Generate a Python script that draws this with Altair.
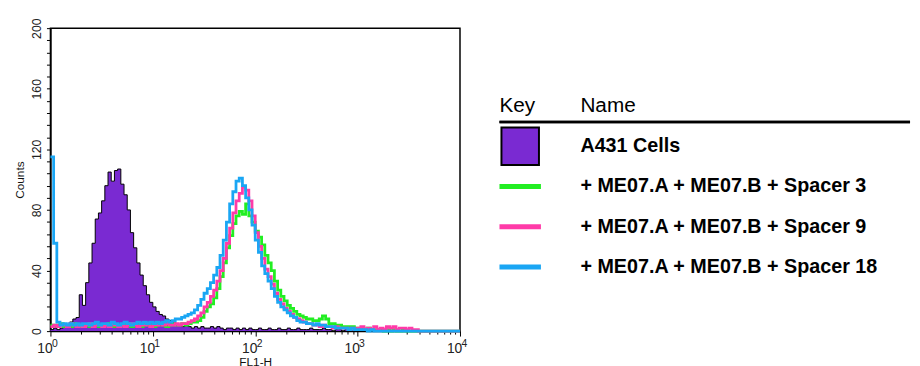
import altair as alt
import pandas as pd

# FL1-H histograms, 32 channels per decade from 10^0 to 10^4 (128 channels)
channels_per_decade = 32

a431 = [1, 2, 1, 2, 3, 4, 6, 8,
        9, 24, 17, 32, 45, 58, 74, 78,
        86, 96, 105, 99, 106, 107, 97, 90,
        80, 65, 55, 45, 37, 30, 24, 19,
        16, 13, 11, 10, 8, 7, 6, 5,
        4, 3, 4, 3, 2, 3, 2, 3,
        2, 2, 3, 2, 3, 2, 1, 2,
        2, 1, 2, 1, 2, 1, 2, 1,
        1, 2, 1, 1, 2, 1, 1, 2,
        1, 1, 2, 1, 1, 2, 1, 1,
        1, 2, 1, 1, 1, 2, 1, 1,
        0, 1, 1, 0, 1, 1, 0, 1,
        0, 0, 1, 0, 0, 0, 0, 0,
        0, 0, 0, 0, 0, 0, 0, 0,
        0, 0, 0, 0, 0, 0, 0, 0,
        0, 0, 0, 0, 0, 0, 0, 0]

spacer3 = [4, 3, 4, 5, 3, 4, 3, 5,
           4, 3, 4, 4, 3, 5, 4, 3,
           4, 4, 5, 3, 4, 3, 4, 5,
           4, 3, 4, 4, 3, 5, 4, 4,
           3, 4, 5, 4, 3, 4, 5, 4,
           4, 5, 4, 5, 6, 6, 7, 9,
           13, 16, 18, 22, 28, 36, 45, 55,
           63, 71, 76, 79, 77, 84, 76, 72,
           66, 62, 57, 50, 45, 40, 33, 27,
           23, 20, 17, 15, 13, 11, 10, 9,
           8, 8, 7, 7, 8, 10, 8, 5,
           5, 4, 4, 3, 3, 3, 3, 2,
           2, 2, 1, 2, 1, 1, 1, 1,
           0, 1, 0, 1, 0, 0, 1, 0,
           0, 0, 0, 0, 0, 0, 0, 0,
           0, 0, 0, 0, 0, 0, 0, 0]

spacer9 = [3, 4, 3, 4, 4, 3, 5, 4,
           3, 4, 3, 4, 5, 3, 4, 4,
           3, 4, 3, 5, 4, 3, 4, 3,
           4, 5, 4, 3, 4, 4, 5, 3,
           4, 4, 5, 4, 5, 4, 4, 5,
           4, 5, 5, 6, 7, 8, 10, 12,
           16, 19, 23, 27, 33, 40, 48, 58,
           68, 78, 86, 91, 95, 93, 86, 76,
           65, 56, 48, 41, 36, 31, 25, 21,
           18, 15, 13, 11, 9, 8, 7, 6,
           5, 5, 4, 4, 3, 4, 3, 3,
           2, 3, 2, 2, 2, 1, 2, 1,
           2, 3, 1, 2, 1, 3, 1, 2,
           1, 3, 2, 3, 1, 2, 2, 1,
           2, 1, 1, 0, 0, 0, 0, 0,
           0, 0, 0, 0, 0, 0, 0, 0]

spacer18 = [115, 58, 6, 4, 5, 4, 5, 4,
            5, 4, 5, 5, 4, 5, 6, 4,
            5, 5, 4, 6, 5, 4, 5, 6,
            5, 4, 5, 6, 5, 6, 5, 6,
            5, 6, 5, 6, 7, 6, 7, 8,
            8, 9, 10, 11, 12, 14, 17, 21,
            25, 28, 32, 37, 42, 50, 60, 72,
            84, 92, 99, 101, 96, 88, 80, 70,
            60, 52, 43, 38, 33, 28, 23, 19,
            16, 14, 12, 10, 9, 7, 6, 6,
            5, 5, 4, 5, 4, 4, 3, 3,
            3, 2, 2, 2, 2, 1, 2, 1,
            1, 1, 1, 0, 1, 0, 0, 0,
            0, 0, 0, 0, 0, 0, 0, 0,
            0, 0, 0, 0, 0, 0, 0, 0,
            0, 0, 0, 0, 0, 0, 0, 0]

series_names = ["A431 Cells",
                "+ ME07.A + ME07.B + Spacer 3",
                "+ ME07.A + ME07.B + Spacer 9",
                "+ ME07.A + ME07.B + Spacer 18"]
series_colors = ["#7a2ad2", "#22ee22", "#ff3aa8", "#1aa6f4"]
legend_rows = ["r1", "r2", "r3", "r4"]
legend_kinds = ["box", "line", "line", "line"]
header_cols = ["key", "name"]
header_texts = ["Key", "Name"]

decade_values = [1, 10, 100, 1000, 10000]
decade_exponents = ["0", "1", "2", "3", "4"]
y_ticks = list(range(0, 201, 8))
x_ticks = [m * 10 ** e for e in range(4) for m in range(1, 10)] + [10000]

FONT = "Liberation Sans"
W, H = 415, 307


def channel_frame(counts, name):
    vals = counts + [counts[-1]]
    return pd.DataFrame({
        "fl": [10 ** (i / channels_per_decade) for i in range(len(vals))],
        "count": vals,
        "series": name,
    })


x_enc = alt.X(
    "fl:Q",
    scale=alt.Scale(type="log", domain=[1, 10000], nice=False),
    axis=alt.Axis(
        title="FL1-H",
        values=x_ticks,
        labelExpr="indexof([1,10,100,1000,10000], datum.value) >= 0 ? '10' : ''",
        tickSize={"condition": {"test": "indexof([1,10,100,1000,10000], datum.value) >= 0",
                                "value": 5}, "value": 3},
        labelFlush=False,
        labelOverlap=False,
        labelPadding=6,
        labelOffset=-6,
        labelFontSize=14,
        titleFontSize=12,
        titlePadding=1,
        grid=False,
    ),
)
y_enc = alt.Y(
    "count:Q",
    scale=alt.Scale(domain=[0, 200], nice=False),
    axis=alt.Axis(
        title="Counts",
        values=y_ticks,
        labelExpr="datum.value % 40 == 0 ? datum.label : ''",
        labelAngle=270,
        labelAlign="center",
        labelBaseline="bottom",
        labelFlush=False,
        labelOverlap=False,
        labelPadding=3,
        labelFontSize=12.5,
        tickSize=4,
        titleFontSize=12,
        titlePadding=4,
        grid=False,
    ),
)

area = alt.Chart(channel_frame(a431, series_names[0])).mark_area(
    interpolate="step-after", color=series_colors[0], opacity=1,
    line={"color": "black", "strokeWidth": 1},
).encode(x=x_enc, y=y_enc)

line_layers = [
    alt.Chart(channel_frame(counts, name)).mark_line(
        interpolate="step-after", color=color, strokeWidth=2.8
    ).encode(x=x_enc, y=y_enc)
    for counts, name, color in zip([spacer3, spacer9, spacer18], series_names[1:], series_colors[1:])
]

# superscript exponents of the decade tick labels
exponents = alt.Chart(pd.DataFrame({"fl": decade_values, "exp": decade_exponents})).mark_text(
    align="left", baseline="alphabetic", dx=1.5, fontSize=10.5, font=FONT, color="#222"
).encode(x=x_enc, y=alt.value(H + 16), text="exp:N")

hist = alt.layer(area, *line_layers, exponents).properties(width=W, height=H)

# ---- legend table panel ----
LW = 416
legend_df = pd.DataFrame({"row": legend_rows, "name": series_names,
                          "color": series_colors, "kind": legend_kinds,
                          "key": "key", "col": "name"})
header_df = pd.DataFrame({"row": "hdr", "col": header_cols, "text": header_texts})

lx = alt.Scale(type="point", domain=["key", "name"], range=[21, 82], padding=0)
ly = alt.Scale(type="point", domain=["hdr"] + legend_rows, range=[79, 242], padding=0)

hdr_key = alt.Chart(header_df).transform_filter("datum.col == 'key'").mark_text(
    align="left", baseline="middle", fontSize=21, font=FONT, dx=-21, color="black"
).encode(x=alt.X("col:N", scale=lx, axis=None), y=alt.Y("row:N", scale=ly, axis=None), text="text:N")
hdr_name = alt.Chart(header_df).transform_filter("datum.col == 'name'").mark_text(
    align="left", baseline="middle", fontSize=21, font=FONT, color="black"
).encode(x=alt.X("col:N", scale=lx, axis=None), y=alt.Y("row:N", scale=ly, axis=None), text="text:N")
rule = alt.Chart(header_df).mark_rule(color="black", strokeWidth=2.5).encode(
    x=alt.value(0), x2=alt.value(LW), y=alt.value(95))
box = alt.Chart(legend_df).transform_filter("datum.kind == 'box'").mark_square(
    size=1444, stroke="black", strokeWidth=2, opacity=1, fillOpacity=1
).encode(x=alt.X("key:N", scale=lx, axis=None), y=alt.Y("row:N", scale=ly, axis=None),
         fill=alt.Fill("color:N", scale=None))
strokes = alt.Chart(legend_df).transform_filter("datum.kind == 'line'").mark_point(
    shape="stroke", size=1764, strokeWidth=5, filled=False, opacity=1
).encode(x=alt.X("key:N", scale=lx, axis=None), y=alt.Y("row:N", scale=ly, axis=None),
         color=alt.Color("color:N", scale=None))
names = alt.Chart(legend_df).mark_text(
    align="left", baseline="middle", fontSize=20, fontWeight="bold", font=FONT, color="black"
).encode(x=alt.X("col:N", scale=lx, axis=None), y=alt.Y("row:N", scale=ly, axis=None), text="name:N")

legend_panel = alt.layer(hdr_key, hdr_name, rule, box, strokes, names).properties(
    width=LW, height=H, view=alt.ViewBackground(stroke="transparent"))

chart = alt.hconcat(hist, legend_panel, spacing=20).properties(
    padding={"left": 5, "top": 6, "right": 0, "bottom": 0}
).configure_view(stroke="black", strokeWidth=1.5).configure_axis(
    labelFont=FONT, titleFont=FONT, labelColor="#222", titleColor="#111",
    titleFontWeight="normal", domainColor="black", domainWidth=1.5,
    tickColor="black", tickWidth=1,
)

chart.save("out.html", embed_options={"renderer": "svg", "actions": False})
